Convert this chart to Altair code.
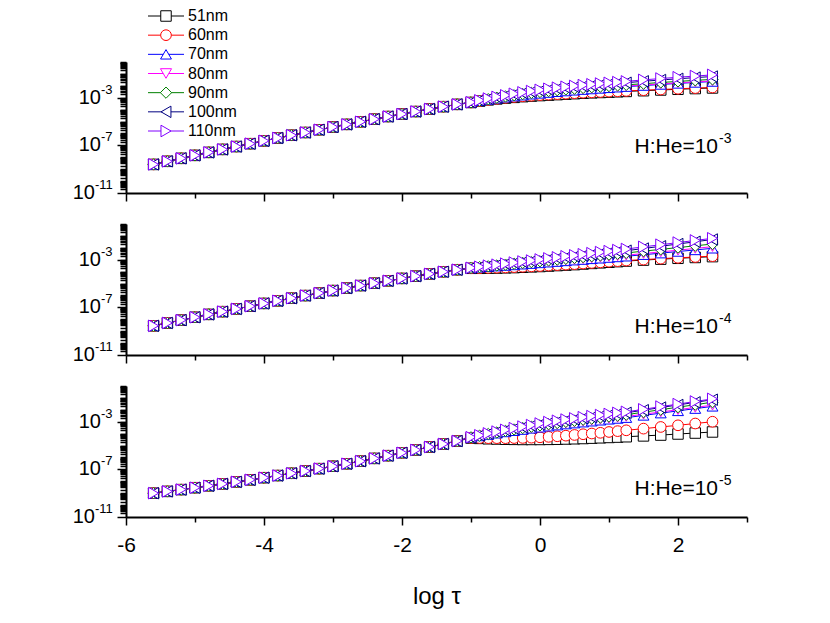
import altair as alt
import pandas as pd

F = "Liberation Sans"

NAMES = ["51nm", "60nm", "70nm", "80nm", "90nm", "100nm", "110nm"]
COLORS = ["#000000", "#FF0000", "#0000FF", "#FF00FF", "#008000", "#000080", "#8000FF"]
SHAPES = ["square", "circle", "triangle-up", "triangle-down", "diamond", "triangle-left", "triangle-right"]
SIZES = [110, 135, 190, 190, 180, 190, 190]

# log(tau) sampling
X_EARLY = [-5.6, -5.4, -5.2, -5.0, -4.8, -4.6, -4.4, -4.2, -4.0, -3.8, -3.6, -3.4, -3.2, -3.0,
           -2.8, -2.6, -2.4, -2.2, -2.0, -1.8, -1.6, -1.4, -1.2]
X_LATE = [-1.0, -0.875, -0.75, -0.625, -0.5, -0.375, -0.25, -0.125, 0.0, 0.125, 0.25, 0.375,
          0.5, 0.625, 0.75, 0.875, 1.0, 1.125, 1.25, 1.5, 1.75, 2.0, 2.25, 2.5]

# log10(y) values
TOP_EARLY = [-8.60, -8.34, -8.09, -7.84, -7.59, -7.34, -7.10, -6.86, -6.62, -6.38, -6.15, -5.92,
             -5.69, -5.46, -5.24, -5.02, -4.80, -4.58, -4.37, -4.16, -3.95, -3.75, -3.56]
TOP_LATE = {
    "51nm":  [-3.40, -3.28, -3.18, -3.10, -3.03, -2.97, -2.91, -2.86, -2.82, -2.78, -2.74, -2.70, -2.66, -2.62, -2.59, -2.56, -2.53, -2.50, -2.47, -2.41, -2.35, -2.29, -2.23, -2.18],
    "60nm":  [-3.40, -3.28, -3.18, -3.09, -3.01, -2.94, -2.88, -2.83, -2.78, -2.74, -2.70, -2.66, -2.62, -2.58, -2.55, -2.52, -2.49, -2.46, -2.43, -2.37, -2.31, -2.25, -2.19, -2.14],
    "70nm":  [-3.39, -3.26, -3.15, -3.05, -2.96, -2.87, -2.79, -2.71, -2.64, -2.57, -2.50, -2.44, -2.38, -2.32, -2.27, -2.22, -2.17, -2.12, -2.07, -1.98, -1.89, -1.80, -1.72, -1.64],
    "80nm":  [-3.39, -3.26, -3.14, -3.03, -2.93, -2.84, -2.75, -2.67, -2.59, -2.52, -2.45, -2.39, -2.33, -2.27, -2.22, -2.17, -2.12, -2.07, -2.02, -1.93, -1.84, -1.75, -1.67, -1.59],
    "90nm":  [-3.39, -3.25, -3.12, -3.00, -2.89, -2.79, -2.69, -2.60, -2.52, -2.44, -2.37, -2.30, -2.24, -2.18, -2.12, -2.07, -2.02, -1.97, -1.92, -1.82, -1.72, -1.63, -1.54, -1.46],
    "100nm": [-3.38, -3.23, -3.09, -2.96, -2.84, -2.72, -2.61, -2.51, -2.42, -2.33, -2.25, -2.17, -2.10, -2.03, -1.97, -1.91, -1.85, -1.79, -1.74, -1.62, -1.51, -1.41, -1.31, -1.22],
    "110nm": [-3.38, -3.22, -3.07, -2.93, -2.80, -2.67, -2.55, -2.44, -2.34, -2.25, -2.16, -2.08, -2.01, -1.94, -1.87, -1.81, -1.75, -1.69, -1.63, -1.50, -1.39, -1.28, -1.18, -1.08],
}

MID_EARLY = [-8.55, -8.31, -8.07, -7.83, -7.59, -7.36, -7.13, -6.90, -6.67, -6.45, -6.23, -6.01,
             -5.80, -5.59, -5.38, -5.17, -4.97, -4.77, -4.57, -4.38, -4.19, -4.01, -3.84]
MID_LATE = {
    "51nm":  [-3.72, -3.72, -3.71, -3.70, -3.68, -3.66, -3.63, -3.60, -3.57, -3.53, -3.49, -3.45, -3.41, -3.36, -3.31, -3.26, -3.21, -3.16, -3.11, -3.03, -2.95, -2.88, -2.81, -2.74],
    "60nm":  [-3.72, -3.71, -3.69, -3.67, -3.65, -3.62, -3.59, -3.56, -3.53, -3.49, -3.45, -3.41, -3.37, -3.32, -3.27, -3.22, -3.17, -3.12, -3.07, -2.99, -2.91, -2.84, -2.77, -2.70],
    "70nm":  [-3.70, -3.64, -3.59, -3.54, -3.49, -3.44, -3.38, -3.33, -3.27, -3.21, -3.16, -3.10, -3.04, -2.99, -2.93, -2.88, -2.82, -2.77, -2.71, -2.58, -2.45, -2.31, -2.18, -2.04],
    "80nm":  [-3.70, -3.64, -3.58, -3.52, -3.46, -3.40, -3.34, -3.28, -3.22, -3.16, -3.10, -3.04, -2.98, -2.92, -2.86, -2.80, -2.74, -2.68, -2.62, -2.48, -2.34, -2.20, -2.05, -1.90],
    "90nm":  [-3.69, -3.62, -3.55, -3.48, -3.41, -3.34, -3.27, -3.20, -3.13, -3.06, -2.99, -2.92, -2.85, -2.78, -2.71, -2.64, -2.57, -2.50, -2.43, -2.28, -2.13, -1.98, -1.83, -1.68],
    "100nm": [-3.68, -3.60, -3.52, -3.44, -3.36, -3.28, -3.20, -3.12, -3.04, -2.96, -2.88, -2.80, -2.72, -2.64, -2.56, -2.48, -2.40, -2.32, -2.24, -2.06, -1.87, -1.68, -1.49, -1.30],
    "110nm": [-3.68, -3.59, -3.50, -3.42, -3.33, -3.24, -3.15, -3.07, -2.98, -2.89, -2.80, -2.71, -2.63, -2.54, -2.45, -2.36, -2.28, -2.19, -2.10, -1.92, -1.74, -1.56, -1.38, -1.20],
}

BOT_EARLY = [-9.00, -8.85, -8.70, -8.54, -8.38, -8.22, -8.05, -7.88, -7.70, -7.52, -7.33, -7.14,
             -6.94, -6.74, -6.53, -6.31, -6.08, -5.85, -5.61, -5.37, -5.12, -4.87, -4.62]
BOT_LATE = {
    "51nm":  [-4.37, -4.40, -4.43, -4.45, -4.47, -4.48, -4.49, -4.49, -4.49, -4.48, -4.47, -4.45, -4.43, -4.41, -4.38, -4.35, -4.32, -4.29, -4.26, -4.19, -4.12, -4.03, -3.95, -3.86],
    "60nm":  [-4.36, -4.37, -4.38, -4.38, -4.38, -4.37, -4.36, -4.34, -4.31, -4.27, -4.22, -4.17, -4.11, -4.05, -3.99, -3.93, -3.86, -3.79, -3.72, -3.58, -3.44, -3.30, -3.15, -3.00],
    "70nm":  [-4.32, -4.20, -4.08, -3.97, -3.86, -3.76, -3.66, -3.56, -3.47, -3.38, -3.29, -3.20, -3.12, -3.04, -2.96, -2.88, -2.80, -2.73, -2.66, -2.47, -2.28, -2.09, -1.90, -1.71],
    "80nm":  [-4.32, -4.19, -4.06, -3.94, -3.83, -3.72, -3.61, -3.51, -3.41, -3.31, -3.22, -3.13, -3.04, -2.96, -2.88, -2.80, -2.72, -2.64, -2.56, -2.37, -2.18, -1.99, -1.80, -1.61],
    "90nm":  [-4.31, -4.17, -4.03, -3.90, -3.77, -3.65, -3.53, -3.42, -3.31, -3.21, -3.11, -3.01, -2.92, -2.83, -2.74, -2.65, -2.57, -2.49, -2.41, -2.20, -1.99, -1.78, -1.57, -1.36],
    "100nm": [-4.30, -4.15, -4.00, -3.86, -3.72, -3.59, -3.46, -3.34, -3.22, -3.11, -3.00, -2.90, -2.80, -2.70, -2.61, -2.52, -2.43, -2.34, -2.25, -2.03, -1.81, -1.59, -1.37, -1.15],
    "110nm": [-4.30, -4.14, -3.98, -3.83, -3.68, -3.54, -3.41, -3.28, -3.15, -3.03, -2.92, -2.82, -2.72, -2.62, -2.53, -2.44, -2.35, -2.26, -2.17, -1.96, -1.73, -1.52, -1.30, -1.08],
}

RATIO_EXP = ["-3", "-4", "-5"]
YMAJ = [1e-11, 1e-7, 1e-3]
YEXP = ["-11", "-7", "-3"]
XTICKS = [-6, -5, -4, -3, -2, -1, 0, 1, 2, 3]
YTICKS = [m * 10.0 ** k for k in range(-11, 0) for m in range(1, 10)] + [1.0]


def build_df(early, late):
    xs = X_EARLY + X_LATE
    rows = []
    for name in NAMES:
        ys = early + late[name]
        assert len(ys) == len(xs), (name, len(ys))
        for xv, lv in zip(xs, ys):
            rows.append({"x": xv, "y": 10 ** lv, "series": name})
    return pd.DataFrame(rows)


XSCALE = alt.Scale(domain=[-6, 3], nice=False, zero=False)
YSCALE = alt.Scale(type="log", domain=[1e-11, 1], nice=False)
STROKE = alt.Stroke("series:N", scale=alt.Scale(domain=NAMES, range=COLORS), legend=None)
SHAPE = alt.Shape("series:N", scale=alt.Scale(domain=NAMES, range=SHAPES), legend=None)
SIZE = alt.Size("series:N", scale=alt.Scale(domain=NAMES, range=SIZES), legend=None)

XTICK_SIZE = {"condition": {"test": "datum.value % 2 == 0", "value": 8}, "value": 5}
YTICK_SIZE = {
    "condition": {
        "test": "abs(log(datum.value)/LN10 + 11) < 0.01 || abs(log(datum.value)/LN10 + 7) < 0.01 || abs(log(datum.value)/LN10 + 3) < 0.01",
        "value": 9,
    },
    "value": 6,
}

W, H = 621, 131


def make_panel(early, late, rexp, base_y, bottom=False, legend=False):
    df = build_df(early, late)
    if bottom:
        xaxis = alt.Axis(values=XTICKS, tickSize=XTICK_SIZE, labelExpr="datum.value % 2 == 0 ? '' + datum.value : ''",
                         labelFlush=False, labelOverlap=False, labelPadding=9, labelFontSize=21,
                         title="log \u03c4", titlePadding=29, titleFontSize=24)
    else:
        xaxis = alt.Axis(values=XTICKS, tickSize=XTICK_SIZE, labels=False, title=None)
    yaxis = alt.Axis(values=YTICKS, tickSize=YTICK_SIZE, labels=False, title=None)
    xenc = alt.X("x:Q", scale=XSCALE, axis=xaxis)
    yenc = alt.Y("y:Q", scale=YSCALE, axis=yaxis)

    lines = alt.Chart(df).mark_line(strokeWidth=1).encode(x=xenc, y=yenc, stroke=STROKE, detail="series:N")
    points = alt.Chart(df).mark_point(filled=True, fill="white", strokeWidth=1, opacity=1).encode(
        x=xenc, y=yenc, stroke=STROKE, shape=SHAPE, size=SIZE)

    ylab = pd.DataFrame({"v": YMAJ, "e": YEXP})
    ypos = alt.Y("v:Q", scale=YSCALE, axis=yaxis)
    xpos = alt.X("ax:Q", scale=None, axis=None)
    ten = alt.Chart(ylab).transform_calculate(ax="length(datum.e) > 2 ? -31 : -25").mark_text(
        text="10", align="right", baseline="middle", fontSize=20, font=F, color="black").encode(x=xpos, y=ypos)
    sup = alt.Chart(ylab).transform_calculate(ax="length(datum.e) > 2 ? -31 : -25").mark_text(
        align="left", baseline="middle", fontSize=13, dy=-8, font=F, color="black").encode(x=xpos, y=ypos, text="e:N")

    ann_df = pd.DataFrame({"t": ["H:He=10"], "e": [rexp]})
    ann = alt.Chart(ann_df).mark_text(align="right", baseline="alphabetic", fontSize=21, font=F, color="black").encode(
        x=alt.value(592), y=alt.value(base_y), text="t:N")
    ann_sup = alt.Chart(ann_df).mark_text(align="left", baseline="alphabetic", fontSize=14, font=F, color="black").encode(
        x=alt.value(593), y=alt.value(base_y - 10), text="e:N")

    main = alt.layer(lines, points, ten, sup, ann, ann_sup)
    if not legend:
        return main.properties(width=W, height=H)

    leg_df = pd.DataFrame({"series": NAMES})
    ly = alt.Y("series:N", scale=alt.Scale(type="point", domain=NAMES, range=[-46, 69], padding=0), axis=None)
    lrule = alt.Chart(leg_df).mark_rule(strokeWidth=1).encode(x=alt.value(22), x2=alt.value(58), y=ly, stroke=STROKE)
    lpt = alt.Chart(leg_df).mark_point(filled=True, fill="white", strokeWidth=1, opacity=1).encode(
        x=alt.value(40), y=ly, stroke=STROKE, shape=SHAPE, size=SIZE)
    ltxt = alt.Chart(leg_df).mark_text(align="left", baseline="middle", fontSize=16, font=F, color="black").encode(
        x=alt.value(62), y=ly, text="series:N")
    leg = alt.layer(lrule, lpt, ltxt)
    return alt.layer(main, leg).resolve_scale(y="independent").properties(width=W, height=H)


top = make_panel(TOP_EARLY, TOP_LATE, RATIO_EXP[0], 91, legend=True)
mid = make_panel(MID_EARLY, MID_LATE, RATIO_EXP[1], 109)
bot = make_panel(BOT_EARLY, BOT_LATE, RATIO_EXP[2], 109, bottom=True)

chart = alt.vconcat(top, mid, bot, spacing=31, bounds="flush").properties(
    padding={"left": 64, "top": 0, "right": 10, "bottom": 5}
).configure_view(stroke=None).configure_axis(
    domainColor="black", domainWidth=2, tickColor="black", tickWidth=1.5,
    labelColor="black", labelFont=F, labelFontSize=20,
    titleFont=F, titleFontSize=22, titleFontWeight="normal", titleColor="black", grid=False,
)

chart.save("out.html", embed_options={"renderer": "svg", "actions": False})
